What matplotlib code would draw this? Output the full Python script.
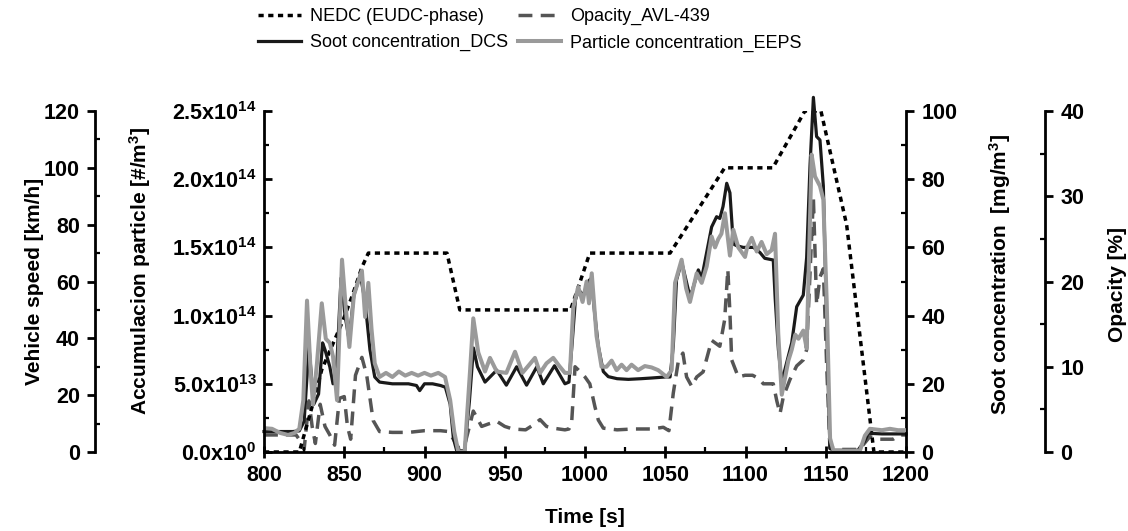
"""Soot / particle / opacity traces over the EUDC phase of the NEDC, four y axes."""

import matplotlib

matplotlib.use("Agg")
import matplotlib.pyplot as plt
from matplotlib.ticker import FixedLocator, MultipleLocator

# --- NEDC speed trace [km/h] ---
nedc_time = [800, 822, 830, 836, 849, 855, 861, 865, 914, 922, 991, 1003,
             1053, 1087, 1117, 1137, 1147, 1163, 1180, 1200]
nedc_speed = [0, 0, 16, 29, 46, 55, 65, 70, 70, 50, 50, 70,
              70, 100, 100, 120, 120, 80, 0, 0]

# --- Soot concentration, DCS [mg/m3] ---
soot_time = [800, 810, 818, 822, 825, 828, 831, 834, 836.5, 838, 841, 843, 845,
             848, 850.5, 853, 856, 860, 863, 866, 869, 872, 880, 890, 895, 897,
             900, 905, 910, 913, 916, 918, 920, 925, 928, 930.5, 933, 937.7, 945,
             951, 957.4, 963.6, 970, 974, 981, 987.5, 990, 992, 994, 996, 999,
             1002, 1004, 1006, 1008.3, 1011.4, 1014.5, 1020, 1027, 1035, 1041.5,
             1050, 1053, 1055, 1057, 1060.2, 1064.4, 1066, 1070.6, 1072.7, 1075.8,
             1078.9, 1082, 1084, 1086, 1088.3, 1090.3, 1092.4, 1094.5, 1098.6,
             1105, 1109, 1112, 1117.3, 1118.5, 1120.5, 1122.6, 1125, 1128.8,
             1131.9, 1136, 1138.1, 1140.2, 1142.3, 1144.3, 1146.4, 1148.5,
             1150.6, 1152.6, 1155, 1170, 1174, 1176.5, 1185, 1195, 1200]
soot_conc = [6.0, 6.0, 6.0, 6.2, 9, 31, 14, 17, 32, 30, 25, 20, 22,
             51, 40, 33, 46, 52, 44, 30, 22, 20.5, 20, 20, 19.5, 18,
             20, 20, 19.5, 19, 14, 4, 0.5, 0.3, 15, 30.5, 25, 20.5, 24,
             19.6, 25, 19.6, 25, 20, 25.3, 20, 20.5, 32, 44.6, 47.5, 46,
             50, 51, 40.7, 31, 23.6, 22.1, 21.5, 21.3, 21.5, 21.7,
             22, 22, 31, 50.4, 55.8, 47.5, 46, 53.4, 51, 58.5,
             66, 69, 68.5, 72, 78.8, 76, 61, 60.5, 60,
             60, 58.5, 56.8, 56.3, 45, 30, 20.5, 25, 32,
             42.6, 46, 57, 84, 104, 92.5, 91.5, 78,
             37, 1, 0.5, 0.5, 3, 5.5, 5.3, 5.3, 5.3]

# --- Particle concentration, EEPS [x1e13 #/m3] ---
part_time = [800, 805, 810, 815, 819, 822, 824.5, 826.8, 829, 830.5, 833, 836,
             838.5, 841, 843, 845.5, 848.6, 851, 853.2, 856, 859, 861, 863, 865,
             867, 869, 872, 876, 880, 884, 888, 892, 896, 900, 904, 908.6, 912.8,
             916, 918.5, 921, 925, 928.3, 930.4, 933.5, 937.7, 940.8, 945, 951,
             956.4, 961, 966, 968.8, 972, 976, 980.2, 984, 987.5, 990.6, 992.7,
             995.8, 998.5, 1001, 1002.5, 1004.2, 1007.2, 1010.3, 1013.4, 1016.6,
             1019.7, 1022.8, 1025.9, 1029, 1033.1, 1037.3, 1041.5, 1045.6, 1050.9,
             1054, 1056.1, 1060.2, 1063, 1065.4, 1069.6, 1072.7, 1075.8, 1078.9,
             1081, 1083, 1085, 1087.2, 1090.3, 1092.4, 1095.5, 1099.7, 1101,
             1103.9, 1107, 1110, 1113.2, 1116.3, 1118.4, 1120.4, 1122.6, 1126.7,
             1128.8, 1131, 1133, 1136, 1138.1, 1139.2, 1141.2, 1143.3, 1146.4,
             1148.5, 1150.6, 1152.7, 1154.8, 1171.3, 1174.4, 1177.5, 1185, 1190,
             1195, 1200]
part_conc = [1.75, 1.7, 1.4, 1.25, 1.4, 1.7, 3.8, 11.1, 6, 3.5, 6.5, 10.9,
             8.3, 8.0, 7.0, 3.8, 14.1, 10.5, 7.7, 11.5, 12.6, 13.3, 9.9, 12.4,
             9, 6.5, 5.5, 5.8, 5.5, 5.9, 5.6, 5.8, 5.6, 5.8, 5.6, 5.8, 5.5,
             3.8, 1.5, 0.05, 0, 5.8, 9.8, 7.3, 5.9, 6.9, 5.9, 5.8,
             7.35, 5.8, 6.5, 6.9, 5.8, 6.5, 6.9, 6.3, 5.8, 5.8, 10.6,
             12.1, 11.0, 12.5, 10.9, 13.1, 8.5, 6.25, 6.25, 6.7,
             6.0, 6.4, 6.0, 6.4, 6.0, 6.3, 6.2, 6.0, 5.5,
             6.0, 12.4, 14.1, 12, 11.0, 13.1, 12.4, 13.6, 15.8,
             15.0, 15.6, 16.0, 17.5, 14.4, 16.3, 15.0, 14.3, 15.0,
             15.7, 14.7, 15.4, 14.5, 14.8, 16.0, 8.7, 4.2, 6.7,
             7.5, 8.6, 8.3, 8.9, 7.6, 12.5, 21.8, 20.2, 19.5,
             18.5, 11, 1, 0.1, 0.1, 1.2, 1.7, 1.6, 1.7,
             1.6, 1.6]

# --- Opacity, AVL-439 [%] ---
opac_time = [800, 810, 820, 823, 825, 828, 830, 832, 835, 838, 841, 844, 847,
             850, 852, 854, 857, 861, 864, 868, 872, 880, 890, 900, 910, 915, 918,
             921, 925, 928, 930.4, 935.6, 940, 945, 950, 955, 963, 968, 972, 976,
             980, 987.5, 990, 991.7, 993.8, 996, 1000, 1003, 1006.2, 1008.3,
             1011.4, 1020, 1030, 1041.5, 1048.8, 1052.3, 1055, 1058.1, 1061,
             1063.3, 1066.5, 1069.6, 1073.6, 1078.9, 1084, 1087, 1089, 1090.3,
             1091.4, 1095.5, 1099.7, 1104.4, 1108.5, 1111.1, 1117.3, 1119.5,
             1121.5, 1123.6, 1127.7, 1131.9, 1136, 1138.1, 1140.2, 1142.3, 1144.3,
             1146.4, 1148.5, 1150.6, 1152.6, 1160, 1171, 1174, 1177.5, 1183.7,
             1192, 1196, 1200]
opac_pct = [2.0, 2.0, 2.0, 1.2, 0.3, 6.0, 3.0, 1.0, 5.6, 3.0, 2.0, 0.8, 6.3,
            6.5, 3.0, 1.5, 9.0, 11.1, 9.0, 3.7, 2.4, 2.3, 2.3, 2.5, 2.5, 2.4, 1.5,
            0.5, 0.8, 3.0, 4.8, 3.0, 3.3, 3.6, 3.0, 2.7, 2.6, 3.2, 3.8, 3.0,
            2.8, 2.6, 2.7, 3.5, 10.0, 9.6, 8.8, 8.0, 5.3, 3.75,
            2.8, 2.6, 2.7, 2.7, 2.9, 2.5, 6.9, 10.6, 11.6,
            8.8, 7.7, 8.8, 9.4, 13.1, 12.4, 15.5, 21.4, 16.3,
            10.8, 8.8, 9.0, 9.0, 8.6, 8.0, 8.0, 6.0,
            4.5, 6.5, 8.5, 10.1, 10.8, 12.0, 21.0, 29.8, 17.3,
            20.5, 21.5, 10.0, 0.5, 0.3, 0.3, 1.0, 1.8, 1.5,
            1.5, 2.0, 2.0]

part_ticks = [0, 5e13, 1e14, 1.5e14, 2e14, 2.5e14]
part_tick_labels = ["0.0x10$^{0}$", "5.0x10$^{13}$", "1.0x10$^{14}$",
                    "1.5x10$^{14}$", "2.0x10$^{14}$", "2.5x10$^{14}$"]

W, H = 1128, 531
TICK_FS = 15.5
LABEL_FS = 15


def _style() -> None:
    plt.rcParams.update(
        {
            "font.family": "Liberation Sans",
            "font.weight": "bold",
            "mathtext.fontset": "custom",
            "mathtext.rm": "Liberation Sans:bold",
            "mathtext.it": "Liberation Sans:bold",
            "mathtext.bf": "Liberation Sans:bold",
            "axes.linewidth": 2.0,
        }
    )


def _ticks(axis_ax, which_axis="y", major_dir="out") -> None:
    axis_ax.tick_params(axis=which_axis, which="major", length=6, width=2.0,
                        labelsize=TICK_FS, direction=major_dir, pad=5)
    axis_ax.tick_params(axis=which_axis, which="minor", length=3.5, width=1.6,
                        direction="in")


def main() -> None:
    _style()
    fig = plt.figure(figsize=(W / 100, H / 100), dpi=100)
    ax = fig.add_axes([264 / W, 1 - 452 / H, 642 / W, 341 / H])
    ax_speed = ax.twinx()
    ax_soot = ax.twinx()
    ax_op = ax.twinx()

    for a, z in ((ax_op, 1), (ax_speed, 2), (ax_soot, 3), (ax, 4)):
        a.set_zorder(z)
        a.patch.set_visible(False)
        for s in a.spines.values():
            s.set_visible(False)

    # particle axis (host)
    part = [v * 1e13 for v in part_conc]
    l_part, = ax.plot(part_time, part, color="#9a9a9a", lw=2.9,
                      label="Particle concentration_EEPS")
    ax.set_xlim(800, 1200)
    ax.set_ylim(0, 2.5e14)
    ax.spines["left"].set_visible(True)
    ax.spines["bottom"].set_visible(True)
    ax.yaxis.set_major_locator(FixedLocator(part_ticks))
    ax.set_yticklabels(part_tick_labels)
    ax.yaxis.set_minor_locator(MultipleLocator(2.5e13))
    ax.xaxis.set_major_locator(MultipleLocator(50))
    ax.xaxis.set_minor_locator(MultipleLocator(25))
    _ticks(ax, "y", major_dir="in")
    _ticks(ax, "x")
    ax.tick_params(axis="x", which="major", direction="inout", length=9)
    ax.set_xlabel("Time [s]", fontsize=LABEL_FS, fontweight="bold")
    ax.xaxis.set_label_coords(0.5, -0.165)
    ax.set_ylabel("Accumulacion particle [#/m$^{3}$]", fontsize=LABEL_FS,
                  fontweight="bold", va="center")
    ax.yaxis.set_label_coords(-0.193, 0.53)

    # vehicle speed axis (far left)
    l_nedc, = ax_speed.plot(nedc_time, nedc_speed, color="black", lw=2.5,
                            linestyle=(0, (1.5, 1.3)), label="NEDC (EUDC-phase)")
    ax_speed.set_ylim(0, 120)
    ax_speed.spines["left"].set_visible(True)
    ax_speed.spines["left"].set_position(("axes", -0.263))
    ax_speed.yaxis.set_ticks_position("left")
    ax_speed.yaxis.set_label_position("left")
    ax_speed.yaxis.set_major_locator(MultipleLocator(20))
    ax_speed.yaxis.set_minor_locator(MultipleLocator(10))
    _ticks(ax_speed)
    ax_speed.set_ylabel("Vehicle speed [km/h]", fontsize=LABEL_FS,
                        fontweight="bold", va="center")
    ax_speed.yaxis.set_label_coords(-0.357, 0.5)

    # soot axis (plot right)
    l_soot, = ax_soot.plot(soot_time, soot_conc, color="#1a1a1a", lw=2.3,
                           label="Soot concentration_DCS", clip_on=False)
    ax_soot.set_ylim(0, 100)
    ax_soot.spines["right"].set_visible(True)
    ax_soot.yaxis.set_major_locator(MultipleLocator(20))
    ax_soot.yaxis.set_minor_locator(MultipleLocator(10))
    _ticks(ax_soot)
    ax_soot.set_ylabel("Soot concentration  [mg/m$^{3}$]", fontsize=LABEL_FS,
                       fontweight="bold", va="center")
    ax_soot.yaxis.set_label_coords(1.146, 0.52)

    # opacity axis (far right)
    l_op, = ax_op.plot(opac_time, opac_pct, color="#555555", lw=2.5,
                       linestyle=(0, (4, 2.4)), label="Opacity_AVL-439")
    ax_op.set_ylim(0, 40)
    ax_op.spines["right"].set_visible(True)
    ax_op.spines["right"].set_position(("axes", 1.217))
    ax_op.yaxis.set_major_locator(MultipleLocator(10))
    ax_op.yaxis.set_minor_locator(MultipleLocator(5))
    _ticks(ax_op)
    ax_op.set_ylabel("Opacity [%]", fontsize=LABEL_FS, fontweight="bold",
                     va="center")
    ax_op.yaxis.set_label_coords(1.329, 0.49)

    fig.legend(
        handles=[l_nedc, l_soot, l_op, l_part],
        loc="upper left",
        bbox_to_anchor=(250 / W, 1.0),
        ncol=2,
        frameon=False,
        prop={"family": "Liberation Sans", "weight": "normal", "size": 13},
        handlelength=2.4,
        handletextpad=0.5,
        columnspacing=0.5,
        labelspacing=0.5,
        borderaxespad=0.05,
    )

    fig.savefig("out.png", dpi=100)
    plt.close(fig)


if __name__ == "__main__":
    main()
